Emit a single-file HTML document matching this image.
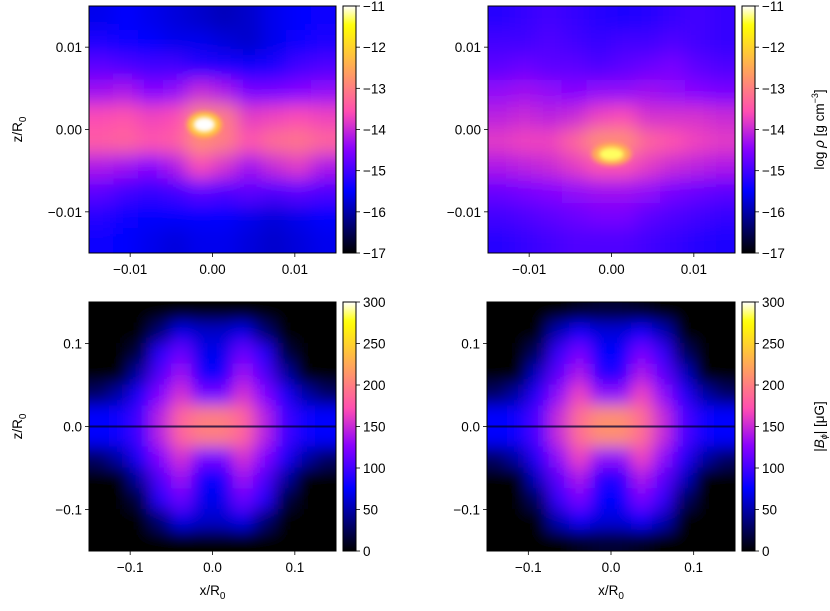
<!DOCTYPE html>
<html><head><meta charset="utf-8">
<style>
html,body{margin:0;padding:0;background:#fff;}
svg text{font-family:"Liberation Sans","DejaVu Sans",sans-serif;font-size:13.5px;fill:#000;}
</style></head>
<body>
<svg id="fig" width="830" height="606" viewBox="0 0 830 606" xmlns="http://www.w3.org/2000/svg">
<defs>
<filter id="blurTop" x="-20%" y="-20%" width="140%" height="140%"><feGaussianBlur stdDeviation="9"/></filter>
<filter id="blurBot" x="-20%" y="-20%" width="140%" height="140%"><feGaussianBlur stdDeviation="8"/></filter>
<filter id="blurCore" x="-100%" y="-100%" width="300%" height="300%"><feGaussianBlur stdDeviation="2.5"/></filter>
</defs>
</svg>
<script>
// ---- data ----
const rhoTicks = [-17,-16,-15,-14,-13,-12,-11];
const bTicks = [0,50,100,150,200,250,300];
const topTicks = [-0.01,0.00,0.01];
const topTickLabels = ['\u22120.01','0.00','0.01'];
const botTicks = [-0.1,0.0,0.1];
const botTickLabels = ['\u22120.1','0.0','0.1'];

const rhoLeft = [
[-15.6,-15.5,-15.6,-15.7,-15.8,-15.9,-15.8,-15.6,-15.5,-15.4],
[-15.3,-15.4,-15.5,-15.6,-15.6,-15.7,-15.8,-15.6,-15.4,-15.3],
[-14.8,-14.9,-15.0,-15.0,-15.2,-15.3,-15.4,-15.3,-15.0,-14.9],
[-14.3,-14.2,-14.5,-14.4,-14.0,-14.2,-14.6,-14.6,-14.5,-14.4],
[-13.6,-13.5,-13.7,-13.6,-12.9,-13.0,-13.8,-13.7,-13.6,-13.7],
[-13.4,-13.3,-13.5,-13.4,-12.8,-13.0,-13.5,-13.2,-13.1,-13.3],
[-14.2,-14.3,-14.5,-14.2,-13.6,-13.9,-14.3,-14.0,-13.8,-14.2],
[-14.8,-15.0,-15.1,-15.0,-14.8,-14.9,-14.8,-14.9,-14.8,-14.9],
[-15.2,-15.4,-15.5,-15.5,-15.5,-15.5,-15.6,-15.7,-15.6,-15.5],
[-15.4,-15.5,-15.6,-15.7,-15.6,-15.6,-15.7,-15.8,-15.7,-15.6]];
const coreLeft = [-0.001, 0.0006, 0.0013, 0.0009, -11.0];

const rhoRight = [
[-15.2,-15.1,-15.0,-15.1,-15.2,-15.3,-15.2,-15.1,-15.0,-15.1],
[-15.0,-15.0,-14.9,-15.0,-15.1,-15.0,-15.0,-14.9,-15.0,-15.1],
[-14.8,-14.7,-14.8,-14.8,-14.9,-14.8,-14.7,-14.6,-14.8,-14.9],
[-14.4,-14.3,-14.4,-14.5,-14.4,-14.4,-14.3,-14.4,-14.5,-14.6],
[-14.1,-14.0,-14.1,-14.0,-13.7,-13.6,-13.9,-13.9,-13.9,-14.0],
[-13.8,-13.7,-13.7,-13.3,-12.8,-12.8,-13.3,-13.5,-13.7,-13.8],
[-14.2,-14.1,-14.0,-13.8,-13.5,-13.5,-13.8,-14.0,-14.1,-14.2],
[-14.7,-14.6,-14.5,-14.4,-14.3,-14.3,-14.4,-14.6,-14.7,-14.8],
[-15.0,-14.9,-14.8,-14.7,-14.6,-14.6,-14.8,-14.9,-15.0,-15.1],
[-15.2,-15.1,-15.0,-14.9,-14.9,-14.9,-15.0,-15.1,-15.2,-15.3]];
const coreRight = [0.0, -0.003, 0.0015, 0.0008, -11.3];

const bLeft = [
[0,0,0,0,0,0,0,0,0,0,0,0],
[0,0,0,35,70,60,60,70,35,0,0,0],
[0,0,20,90,115,70,70,115,90,20,0,0],
[0,0,50,105,135,80,80,135,105,50,0,0],
[30,50,85,125,155,120,120,155,125,85,50,30],
[75,80,100,145,185,200,200,185,145,100,80,75],
[75,80,100,145,185,200,200,185,145,100,80,75],
[30,50,85,125,155,120,120,155,125,85,50,30],
[0,0,50,105,135,80,80,135,105,50,0,0],
[0,0,20,90,115,70,70,115,90,20,0,0],
[0,0,0,35,70,60,60,70,35,0,0,0],
[0,0,0,0,0,0,0,0,0,0,0,0]];
const bRight = [
[0,0,0,0,10,15,15,10,0,0,0,0],
[0,0,0,55,80,65,65,80,55,0,0,0],
[0,0,30,95,120,75,75,120,95,30,0,0],
[0,0,60,110,140,90,90,140,110,60,0,0],
[30,50,90,130,165,130,130,165,130,90,50,30],
[75,80,105,150,190,210,210,190,150,105,80,75],
[75,80,105,150,190,210,210,190,150,105,80,75],
[30,50,90,130,165,130,130,165,130,90,50,30],
[0,0,60,110,140,90,90,140,110,60,0,0],
[0,0,30,95,120,75,75,120,95,30,0,0],
[0,0,0,55,80,65,65,80,55,0,0,0],
[0,0,0,0,10,15,15,10,0,0,0,0]];
const equatorValue = 15;

// ---- helpers ----
const NS='http://www.w3.org/2000/svg';
const svg=document.getElementById('fig');
function mk(tag,attrs,parent){const e=document.createElementNS(NS,tag);for(const k in attrs)e.setAttribute(k,attrs[k]);(parent||svg).appendChild(e);return e;}
function cl(v){return Math.max(0,Math.min(1,v));}
function cmap(t){t=cl(t);
 const r=cl(t/0.32-0.78125), g=cl(2*t-0.84);
 let b; if(t<0.25)b=4*t; else if(t<0.42)b=1; else if(t<0.92)b=-2*t+1.84; else b=t/0.08-11.5;
 b=cl(b);
 return `rgb(${Math.round(r*255)},${Math.round(g*255)},${Math.round(b*255)})`;}

function makePanel(id,px0,px1,py0,py1,dom,grid,vmin,vmax,blurId,core,ticks,tickLabels,showX,showYLabel){
 const xs=v=>px0+(v+dom)/(2*dom)*(px1-px0);
 const ys=v=>py0+(dom-v)/(2*dom)*(py1-py0);
 const g=mk('g',{});
 
 
 const cp=mk('clipPath',{id:'clip-'+id},g);
 mk('rect',{x:px0,y:py0,width:px1-px0,height:py1-py0},cp);
 const inner=mk('g',{'clip-path':`url(#clip-${id})`},g);
 const hm=mk('g',{filter:`url(#${blurId})`},inner);
 
 
 const nr=grid.length,nc=grid[0].length,cw=2*dom/nc,ch=2*dom/nr;
 for(let i=0;i<nr;i++)for(let j=0;j<nc;j++){
  let xa=xs(-dom+j*cw),xb=xs(-dom+(j+1)*cw),ya=ys(dom-i*ch),yb=ys(dom-(i+1)*ch);
  if(j===0)xa-=40; if(j===nc-1)xb+=40; if(i===0)ya-=40; if(i===nr-1)yb+=40;
  const r=mk('rect',{x:xa-0.5,y:ya-0.5,width:xb-xa+1,height:yb-ya+1,fill:cmap((grid[i][j]-vmin)/(vmax-vmin))},hm);
  
  
 }
 if(core){
  const cx=xs(core[0]),cy=ys(core[1]);
  const rx=Math.abs(xs(core[2])-xs(0)),ry=Math.abs(ys(core[3])-ys(0));
  const c1=mk('ellipse',{cx,cy,rx:rx*1.6,ry:ry*1.7,fill:cmap((core[4]-1.0-vmin)/(vmax-vmin)),filter:'url(#blurCore)',opacity:0.8},inner);
  
  
  const c2=mk('ellipse',{cx,cy,rx,ry,fill:cmap((core[4]-vmin)/(vmax-vmin)),filter:'url(#blurCore)'},inner);
  
  
 }
 if(!core){
  const eq=mk('rect',{x:px0,y:ys(0)-1,width:px1-px0,height:2,fill:cmap((equatorValue-vmin)/(vmax-vmin)),opacity:0.75},inner);
  
  
 }
 const fr=mk('rect',{x:px0,y:py0,width:px1-px0,height:py1-py0,fill:'none',stroke:'#000','stroke-width':1},g);
 
 
 ticks.forEach((t,k)=>{
  const X=xs(t);
  mk('line',{x1:X,x2:X,y1:py1,y2:py1+4,stroke:'#000','stroke-width':0.8},g);
  const tx=mk('text',{x:X,y:py1+21,'text-anchor':'middle'},g);tx.textContent=tickLabels[k];
  
  
  const Y=ys(t);
  mk('line',{x1:px0-4,x2:px0,y1:Y,y2:Y,stroke:'#000','stroke-width':0.8},g);
  const ty=mk('text',{x:px0-7,y:Y+5,'text-anchor':'end'},g);ty.textContent=tickLabels[k];
  
  
 });
 if(showX){
  const xl=mk('text',{x:(px0+px1)/2,y:py1+44,'text-anchor':'middle'},g);
  xl.innerHTML='x/R<tspan font-size="10" dy="4">0</tspan>';
  
  
 }
 if(showYLabel){
  const cy=(py0+py1)/2;
  const yl=mk('text',{x:0,y:0,'text-anchor':'middle',transform:`translate(22,${cy}) rotate(-90)`},g);
  yl.innerHTML='z/R<tspan font-size="10" dy="4">0</tspan>';
  
  
 }
}

function makeColorbar(id,x0,x1,y0,y1,ticks,label){
 const g=mk('g',{});
 
 
 const gid='grad-'+id;
 const lg=mk('linearGradient',{id:gid,x1:0,y1:1,x2:0,y2:0},g);
 for(let i=0;i<=40;i++)mk('stop',{offset:i/40,'stop-color':cmap(i/40)},lg);
 mk('rect',{x:x0,y:y0,width:x1-x0,height:y1-y0,fill:`url(#${gid})`,stroke:'#000','stroke-width':1},g);
 const vmin=ticks[0],vmax=ticks[ticks.length-1];
 const ys=v=>y1-(v-vmin)/(vmax-vmin)*(y1-y0);
 ticks.forEach(t=>{
  const Y=ys(t);
  mk('line',{x1:x1,x2:x1+4,y1:Y,y2:Y,stroke:'#000','stroke-width':0.8},g);
  const tx=mk('text',{x:x1+7,y:Y+5},g);tx.textContent=(t<0?'\u2212'+(-t):String(t));
  
  
 });
 if(label){
  const cy=(y0+y1)/2;
  const l=mk('text',{x:0,y:0,'text-anchor':'middle',transform:`translate(824,${cy}) rotate(-90)`},g);
  l.innerHTML=label;
  
  
 }
}

makePanel('panel-density-left',89,336,6,253,0.015,rhoLeft,-17,-11,'blurTop',coreLeft,topTicks,topTickLabels,false,true);
makePanel('panel-density-right',488,735,6,253,0.015,rhoRight,-17,-11,'blurTop',coreRight,topTicks,topTickLabels,false,false);
makePanel('panel-field-left',89,336,302,551,0.15,bLeft,0,300,'blurBot',null,botTicks,botTickLabels,true,true);
makePanel('panel-field-right',487,735,302,551,0.15,bRight,0,300,'blurBot',null,botTicks,botTickLabels,true,false);
makeColorbar('colorbar-density-left',343,356,6,253,rhoTicks,null);
makeColorbar('colorbar-density-right',742,755,6,253,rhoTicks,'log <tspan font-style="italic">\u03c1</tspan> [g cm<tspan font-size="9" dy="-6">\u22123</tspan><tspan dy="6">]</tspan>');
makeColorbar('colorbar-field-left',343,356,302,551,bTicks,null);
makeColorbar('colorbar-field-right',742,755,302,551,bTicks,'|<tspan font-style="italic">B</tspan><tspan font-size="9" dy="3" font-style="italic">\u03d5</tspan><tspan dy="-3">| [\u03bcG]</tspan>');
</script>
</body></html>
